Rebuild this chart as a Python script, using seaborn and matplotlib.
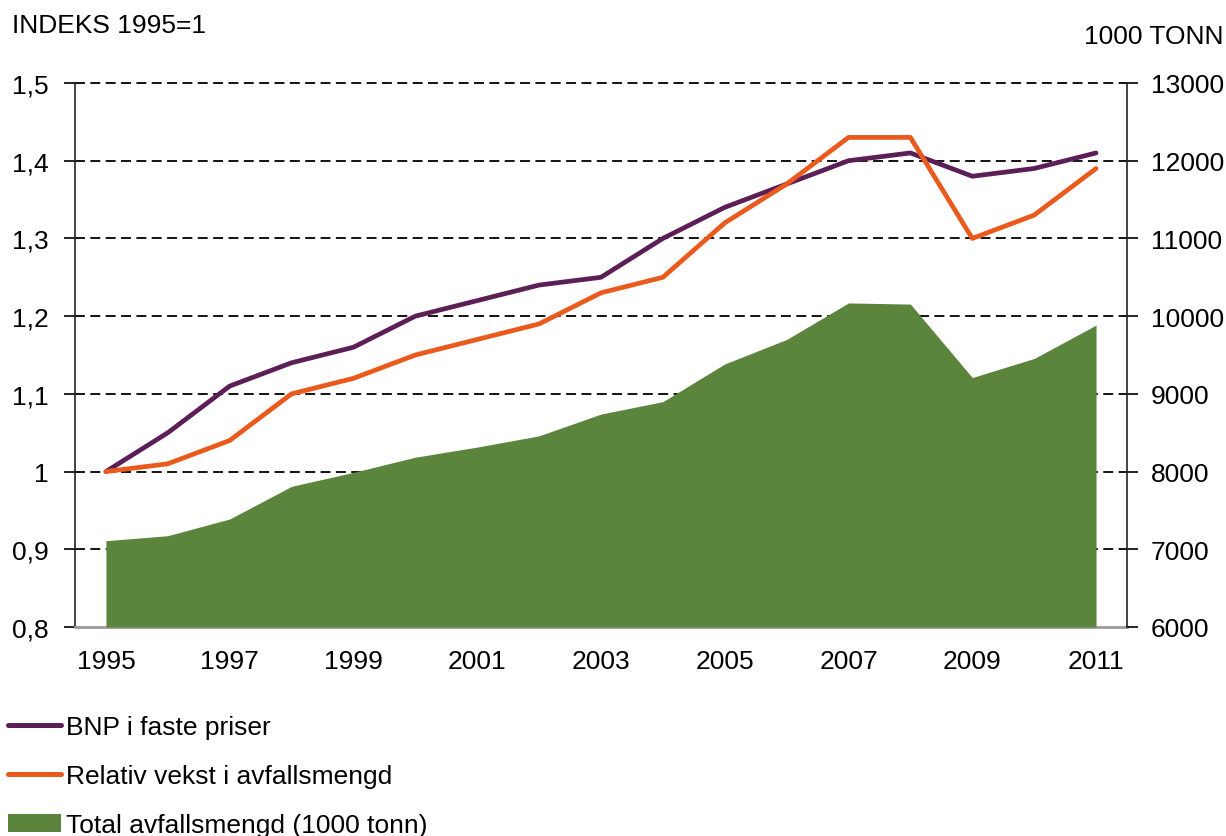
import numpy as np
import pandas as pd
import matplotlib
matplotlib.use("Agg")
import matplotlib.pyplot as plt
import seaborn as sns
from matplotlib.ticker import FixedLocator, FuncFormatter
from matplotlib.lines import Line2D
from matplotlib.patches import Patch

years = list(range(1995, 2012))
bnp = [1.00, 1.05, 1.11, 1.14, 1.16, 1.20, 1.22, 1.24, 1.25, 1.30, 1.34, 1.37, 1.40, 1.41, 1.38, 1.39, 1.41]
relativ = [1.00, 1.01, 1.04, 1.10, 1.12, 1.15, 1.17, 1.19, 1.23, 1.25, 1.32, 1.37, 1.43, 1.43, 1.30, 1.33, 1.39]
total = [7110, 7175, 7390, 7810, 7990, 8185, 8315, 8460, 8740, 8900, 9385, 9700, 10170, 10155, 9210, 9455, 9885]
left_ticks = [0.8, 0.9, 1.0, 1.1, 1.2, 1.3, 1.4, 1.5]
right_ticks = [6000, 7000, 8000, 9000, 10000, 11000, 12000, 13000]
labels = ["BNP i faste priser", "Relativ vekst i avfallsmengd", "Total avfallsmengd (1000 tonn)"]

c_purple = "#5C1E57"
c_orange = "#EA5A1C"
c_green = "#5B853D"

sns.set_style("white")
plt.rcParams["font.family"] = ["Liberation Sans", "DejaVu Sans"]
plt.rcParams["text.color"] = "black"
plt.rcParams["xtick.color"] = "black"
plt.rcParams["ytick.color"] = "black"
plt.rcParams["xtick.labelcolor"] = "black"
plt.rcParams["ytick.labelcolor"] = "black"
FS = 19

idx = np.arange(len(years))
df = pd.DataFrame({"i": np.concatenate([idx, idx]),
                   "v": bnp + relativ,
                   "s": [labels[0]] * len(years) + [labels[1]] * len(years)})

fig = plt.figure(figsize=(12.26, 8.37), dpi=100)
L, R, B, T = 75 / 1226, 1127 / 1226, 1 - 628 / 837, 1 - 84 / 837
ax = fig.add_axes([L, B, R - L, T - B])
ax2 = ax.twinx()
ax3 = ax.twinx()

# left axis: grid and ticks
ax.set_xlim(-0.5, len(years) - 0.5)
ax.set_ylim(0.8, 1.5)
ax.set_yticks(left_ticks)
ax.yaxis.set_major_formatter(FuncFormatter(lambda v, p: ("%g" % round(v, 1)).replace(".", ",")))
for y in left_ticks[1:]:
    ax.axhline(y, color="black", lw=1.3, ls=(0, (5.5, 3)), zorder=0, clip_on=False)
ax.set_xticks(idx[::2])
ax.set_xticklabels([str(y) for y in years[::2]])
ax.xaxis.set_minor_locator(FixedLocator(np.arange(-0.5, len(years), 1.0)))
ax.tick_params(axis="x", which="major", length=0, pad=16, labelsize=FS)
ax.tick_params(axis="x", which="minor", length=6, width=1.2, color="black", direction="out")
ax.tick_params(axis="y", length=8, width=1.2, color="black", direction="out", pad=11, labelsize=FS, left=True)
for s in ["top", "right"]:
    ax.spines[s].set_visible(False)
ax.spines["left"].set_color("#222222")
ax.spines["left"].set_linewidth(1.2)
ax.spines["bottom"].set_color("#999999")
ax.spines["bottom"].set_linewidth(2)

# right axis: area
ax2.fill_between(idx, 6000, total, color=c_green, lw=0, zorder=2)
ax2.set_ylim(6000, 13000)
ax2.set_yticks(right_ticks)
ax2.tick_params(axis="y", length=8, width=1.2, color="black", direction="out", pad=9, labelsize=FS, right=True)
for s in ["top", "left", "bottom"]:
    ax2.spines[s].set_visible(False)
ax2.spines["right"].set_color("#222222")
ax2.spines["right"].set_linewidth(1.2)

# lines on left scale, on top
sns.lineplot(data=df, x="i", y="v", hue="s", palette=[c_purple, c_orange], lw=3.4, ax=ax3, legend=False)
ax3.set_ylim(0.8, 1.5)
ax3.set_xlim(-0.5, len(years) - 0.5)
ax3.axis("off")
ax3.set_xlabel("")
ax3.set_ylabel("")

fig.text(12 / 1226, 1 - 26 / 837, "INDEKS 1995=1", fontsize=FS, va="center", ha="left")
fig.text(1224 / 1226, 1 - 37 / 837, "1000 TONN", fontsize=FS, va="center", ha="right")

handles = [Line2D([], [], color=c_purple, lw=3.6, solid_capstyle="round"),
           Line2D([], [], color=c_orange, lw=3.6, solid_capstyle="round"),
           Patch(facecolor=c_green, edgecolor="none")]
fig.legend(handles, labels, loc="upper left", bbox_to_anchor=(8 / 1226, 1 - 716 / 837),
           frameon=False, fontsize=FS, handlelength=2.0, handletextpad=0.2,
           labelspacing=0.95, borderpad=0, borderaxespad=0)

fig.savefig("out.png", dpi=100)
